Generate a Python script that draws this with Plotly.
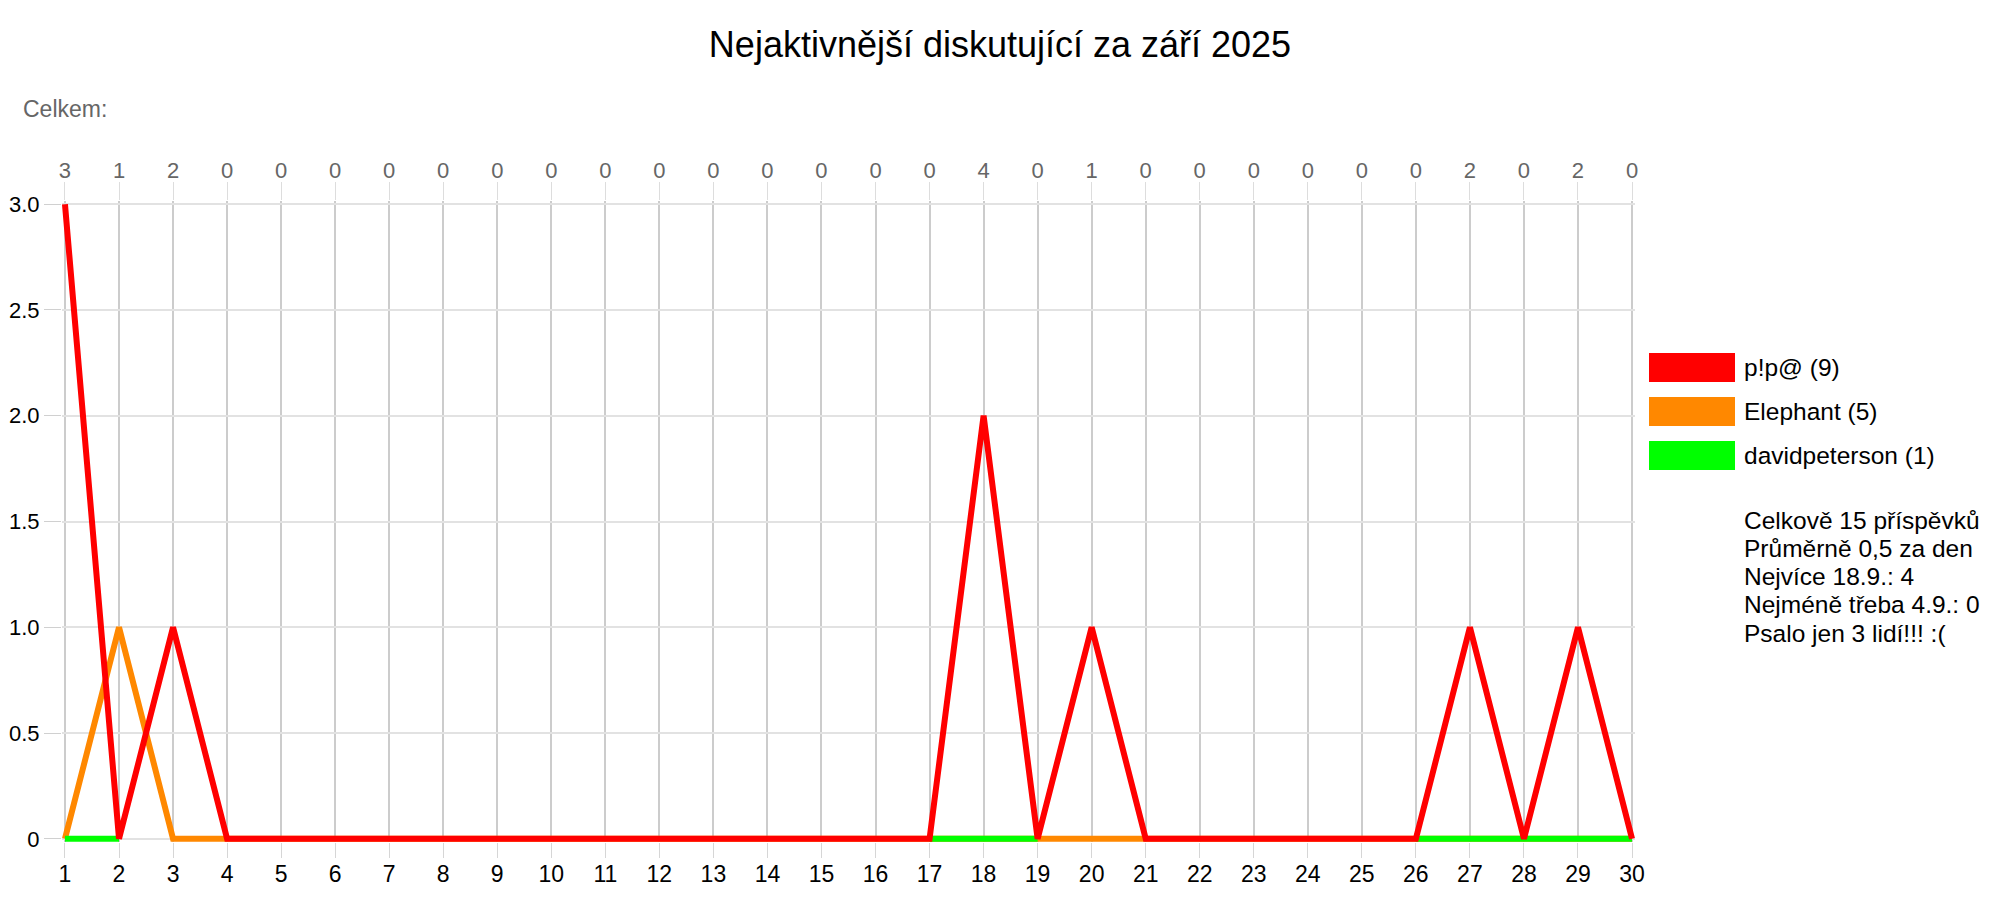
import plotly.graph_objects as go

# ---- data ----
days = list(range(1, 31))
day_totals = [3, 1, 2, 0, 0, 0, 0, 0, 0, 0, 0, 0, 0, 0, 0, 0, 0, 4, 0, 1, 0, 0, 0, 0, 0, 0, 2, 0, 2, 0]
pip_values = [3, 0, 1, 0, 0, 0, 0, 0, 0, 0, 0, 0, 0, 0, 0, 0, 0, 2, 0, 1, 0, 0, 0, 0, 0, 0, 1, 0, 1, 0]
elephant_values = [0, 1, 0, 0, 0, 0, 0, 0, 0, 0, 0, 0, 0, 0, 0, 0, 0, 0, 0, 0, 0, 0, 0, 0, 0, 0, 0, 0, 0, 0]
david_values = [0, 0, None, None, None, None, None, None, None, None, None, None, None, None, None, None,
                0, 0, 0, None, None, None, None, None, None, 0, 0, 0, 0, 0]
series_names = ["p!p@ (9)", "Elephant (5)", "davidpeterson (1)"]
series_colors = ["#ff0000", "#ff8800", "#00ff00"]
y_tick_vals = [0, 0.5, 1.0, 1.5, 2.0, 2.5, 3.0]
y_tick_text = ["0", "0.5", "1.0", "1.5", "2.0", "2.5", "3.0"]
stats_lines = ["Celkově 15 příspěvků", "Průměrně 0,5 za den", "Nejvíce 18.9.: 4",
               "Nejméně třeba 4.9.: 0", "Psalo jen 3 lidí!!! :("]
title_text = "Nejaktivnější diskutující za září 2025"

OFF = 8  # page body margin
W, H = 2000 - OFF, 900 - OFF
ML, MR, MT, MB = 62 - OFF, 365, 201 - OFF, 58
PW, PH = W - ML - MR, H - MT - MB

def px(x):  # page pixel -> paper
    return (x - OFF - ML) / PW

def py(y):
    return (H - MB - (y - OFF)) / PH

FONT = "Liberation Sans, Arial, sans-serif"

fig = go.Figure()
# draw order: orange, green, red on top
for vals, name, col in [(elephant_values, series_names[1], series_colors[1]),
                        (david_values, series_names[2], series_colors[2]),
                        (pip_values, series_names[0], series_colors[0])]:
    fig.add_trace(go.Scatter(x=days, y=vals, mode="lines", name=name,
                             line=dict(color=col, width=6), showlegend=False,
                             connectgaps=False, hoverinfo="x+y+name"))
# invisible trace for top axis
fig.add_trace(go.Scatter(x=days, y=[None] * len(days), xaxis="x2", showlegend=False,
                         hoverinfo="skip"))

xr = [0.945, 30.055]
yr = [-0.015, 3.015]

fig.update_layout(
    template="none",
    width=W, height=H,
    margin=dict(l=ML, r=MR, t=MT, b=MB, autoexpand=False),
    paper_bgcolor="white", plot_bgcolor="white",
    font=dict(family=FONT, size=22, color="#000"),
    title=dict(text=title_text, x=(1000 - OFF) / W, xref="container", xanchor="center",
               y=1 - (44 - OFF) / H, yref="container", yanchor="middle",
               font=dict(family=FONT, size=36, color="#000")),
    xaxis=dict(range=xr, tickvals=days, ticktext=[str(d) for d in days], automargin=False,
               showgrid=True, gridcolor="#cccccc", gridwidth=1.5,
               zeroline=False, showline=False,
               ticks="outside", ticklen=15, tickcolor="#d6d6d6", ticklabelstandoff=-4,
               tickfont=dict(size=23, color="#000")),
    xaxis2=dict(range=xr, overlaying="x", side="top", tickvals=days, automargin=False,
                ticktext=[str(v) for v in day_totals], showgrid=False,
                zeroline=False, showline=False, ticks="outside", ticklen=18,
                ticklabelstandoff=-5,
                tickcolor="#dddddd", tickfont=dict(family=FONT, size=22, color="#666")),
    yaxis=dict(range=yr, tickvals=y_tick_vals, ticktext=y_tick_text, automargin=False,
               showgrid=True, gridcolor="#e2e2e2", gridwidth=1.5,
               zeroline=False, showline=False, ticks="outside", ticklen=17,
               tickcolor="#d0d0d0", tickfont=dict(size=22, color="#000")),
    showlegend=False,
)

# axis lines (left at day 1, bottom at 0)
fig.add_shape(type="line", xref="x", yref="y", x0=1, x1=1, y0=0, y1=3,
              line=dict(color="#999999", width=1.5), layer="below")
fig.add_shape(type="line", xref="x", yref="y", x0=1, x1=30, y0=0, y1=0,
              line=dict(color="#999999", width=1.5), layer="below")

# "Celkem:" label
fig.add_annotation(text="Celkem:", xref="paper", yref="paper", x=px(21), y=py(109),
                   xanchor="left", yanchor="middle", showarrow=False,
                   font=dict(family=FONT, size=23, color="#666"))

# custom legend
leg_tops = [353, 397, 441]
for i, (name, col) in enumerate(zip(series_names, series_colors)):
    t = leg_tops[i]
    fig.add_shape(type="rect", xref="paper", yref="paper",
                  x0=px(1649), x1=px(1735), y0=py(t + 29), y1=py(t),
                  fillcolor=col, line=dict(width=0))
    fig.add_annotation(text=name, xref="paper", yref="paper", x=px(1742), y=py(t + 14.5),
                       xanchor="left", yanchor="middle", showarrow=False,
                       font=dict(size=24.5, color="#000"))

for i, line in enumerate(stats_lines):
    fig.add_annotation(text=line, xref="paper", yref="paper", x=px(1742), y=py(520 + 28.3 * i),
                       xanchor="left", yanchor="middle", showarrow=False,
                       font=dict(size=24.5, color="#000"))

fig.write_html("out.html")
